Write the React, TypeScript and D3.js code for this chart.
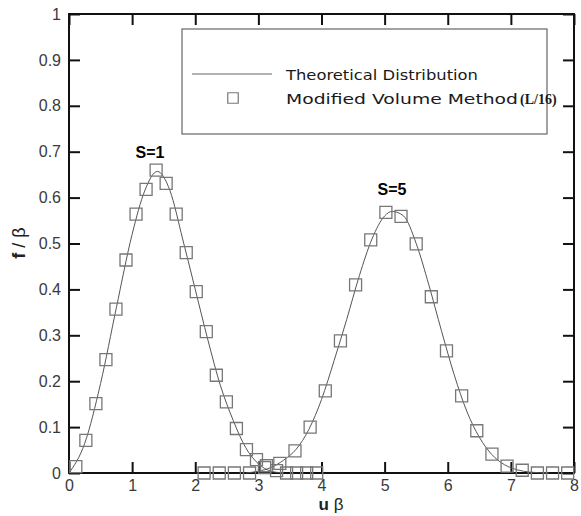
import { useEffect, useRef } from "react";
import * as d3 from "d3";

// marker data (u*beta, f/beta)
const s1U = [0.108, 0.267, 0.426, 0.585, 0.744, 0.903, 1.062, 1.221, 1.38, 1.539, 1.698, 1.857, 2.016, 2.175, 2.334, 2.493, 2.652, 2.811, 2.97, 3.129, 3.288, 3.447, 3.606, 3.765, 3.924];
const s1F = [0.014, 0.071, 0.151, 0.247, 0.357, 0.464, 0.564, 0.618, 0.66, 0.631, 0.564, 0.48, 0.395, 0.308, 0.213, 0.155, 0.097, 0.051, 0.029, 0.016, 0.005, 0, 0, 0, 0];
const s5U = [2.14, 2.38, 2.62, 2.86, 3.1, 3.34, 3.58, 3.82, 4.06, 4.3, 4.54, 4.78, 5.02, 5.26, 5.5, 5.74, 5.98, 6.22, 6.46, 6.7, 6.94, 7.18, 7.42, 7.66, 7.9];
const s5F = [0, 0, 0, 0, 0.012, 0.021, 0.048, 0.1, 0.179, 0.288, 0.41, 0.508, 0.568, 0.559, 0.499, 0.384, 0.266, 0.168, 0.092, 0.041, 0.015, 0.006, 0, 0, 0];

// theoretical curves
const t1U = [0, 0.25, 0.5, 0.75, 1.0, 1.2, 1.4, 1.6, 1.8, 2.0, 2.2, 2.4, 2.6, 2.8, 3.0, 3.2, 3.4];
const t1F = [0, 0.065, 0.195, 0.36, 0.52, 0.615, 0.657, 0.615, 0.51, 0.4, 0.29, 0.19, 0.115, 0.055, 0.02, 0.004, 0];
const t5U = [2.8, 3.0, 3.2, 3.4, 3.6, 3.8, 4.0, 4.2, 4.4, 4.6, 4.8, 5.0, 5.12, 5.3, 5.5, 5.7, 5.9, 6.1, 6.3, 6.5, 6.7, 6.9, 7.1, 7.3, 7.6];
const t5F = [0, 0.004, 0.012, 0.028, 0.052, 0.095, 0.16, 0.245, 0.335, 0.43, 0.51, 0.56, 0.57, 0.56, 0.5, 0.41, 0.31, 0.215, 0.135, 0.078, 0.04, 0.018, 0.007, 0.002, 0];

const xTicks = [0, 1, 2, 3, 4, 5, 6, 7, 8];
const yTicks = [0, 0.1, 0.2, 0.3, 0.4, 0.5, 0.6, 0.7, 0.8, 0.9, 1];

const W = 581;
const H = 516;

export default function App() {
  const ref = useRef<SVGSVGElement>(null);

  useEffect(() => {
    const svg = d3.select(ref.current);
    svg.selectAll("*").remove();

    const x = d3.scaleLinear().domain([0, 8]).range([69, 574]);
    const y = d3.scaleLinear().domain([0, 1]).range([473, 14]);
    const font = "Liberation Sans, Arial, sans-serif";
    const legendFont = "DejaVu Sans, Verdana, sans-serif";

    const fmtY = (d) => (d === 0 || d === 1 ? String(d) : d3.format(".1f")(d));

    // axes with inward ticks
    const styleAxis = (g) => {
      g.select(".domain").remove();
      g.selectAll("line").attr("stroke", "#111").attr("stroke-width", 2);
      g.selectAll("text")
        .style("font-family", font)
        .style("font-size", "16px")
        .attr("fill", "#3a3a3a");
    };

    svg.append("g")
      .attr("transform", `translate(69,0)`)
      .call(d3.axisLeft(y).tickValues(yTicks).tickSize(-11).tickPadding(8).tickFormat(fmtY))
      .call(styleAxis);
    svg.append("g")
      .attr("transform", `translate(574,0)`)
      .call(d3.axisRight(y).tickValues(yTicks).tickSize(-11).tickFormat(() => ""))
      .call(styleAxis);
    svg.append("g")
      .attr("transform", `translate(0,473)`)
      .call(d3.axisBottom(x).tickValues(xTicks).tickSize(-11).tickPadding(7).tickFormat(d3.format("d")))
      .call(styleAxis);
    svg.append("g")
      .attr("transform", `translate(0,14)`)
      .call(d3.axisTop(x).tickValues(xTicks).tickSize(-11).tickFormat(() => ""))
      .call(styleAxis);

    // frame
    svg.append("rect")
      .attr("x", 69)
      .attr("y", 14)
      .attr("width", 505)
      .attr("height", 459)
      .attr("fill", "none")
      .attr("stroke", "#111")
      .attr("stroke-width", 2);

    // theoretical lines
    const line = d3.line<[number, number]>()
      .x((d) => x(d[0]))
      .y((d) => y(d[1]))
      .curve(d3.curveMonotoneX);
    [[t1U, t1F], [t5U, t5F]].forEach(([us, fs]) => {
      svg.append("path")
        .attr("d", line(us.map((u, i) => [u, fs[i]])))
        .attr("fill", "none")
        .attr("stroke", "#555")
        .attr("stroke-width", 1);
    });

    // markers
    const sq = d3.symbol().type(d3.symbolSquare).size(144);
    [[s1U, s1F], [s5U, s5F]].forEach(([us, fs]) => {
      svg.append("g")
        .selectAll("path")
        .data(us.map((u, i) => [u, fs[i]]))
        .enter()
        .append("path")
        .attr("transform", (d) => `translate(${x(d[0])},${y(d[1])})`)
        .attr("d", sq())
        .attr("fill", "none")
        .attr("stroke", "#777")
        .attr("stroke-width", 1.3);
    });

    // peak labels
    svg.append("text")
      .attr("x", 150).attr("y", 158)
      .attr("text-anchor", "middle")
      .style("font-family", font).style("font-size", "16px").style("font-weight", "bold")
      .text("S=1");
    svg.append("text")
      .attr("x", 392).attr("y", 195)
      .attr("text-anchor", "middle")
      .style("font-family", font).style("font-size", "16px").style("font-weight", "bold")
      .text("S=5");

    // legend
    const lg = svg.append("g");
    lg.append("rect")
      .attr("x", 182).attr("y", 29).attr("width", 365).attr("height", 105)
      .attr("fill", "white").attr("stroke", "#666").attr("stroke-width", 1.2);
    lg.append("line")
      .attr("x1", 192).attr("x2", 272).attr("y1", 74).attr("y2", 74)
      .attr("stroke", "#666").attr("stroke-width", 1);
    lg.append("path")
      .attr("transform", "translate(233,98)")
      .attr("d", d3.symbol().type(d3.symbolSquare).size(110)())
      .attr("fill", "none").attr("stroke", "#777").attr("stroke-width", 1.2);
    lg.append("text")
      .attr("x", 286).attr("y", 80)
      .attr("textLength", 192).attr("lengthAdjust", "spacingAndGlyphs")
      .style("font-family", legendFont).style("font-size", "14.5px").attr("fill", "#1a1a1a")
      .text("Theoretical Distribution");
    lg.append("text")
      .attr("x", 286).attr("y", 104)
      .attr("textLength", 232).attr("lengthAdjust", "spacingAndGlyphs")
      .style("font-family", legendFont).style("font-size", "14.5px").attr("fill", "#1a1a1a")
      .text("Modified Volume Method");
    lg.append("text")
      .attr("x", 520).attr("y", 104)
      .style("font-family", "Liberation Serif, Times New Roman, serif").style("font-size", "14px")
      .style("font-weight", "bold").attr("fill", "#1a1a1a")
      .text("(L/16)");

    // axis titles
    const xt = svg.append("text")
      .attr("x", 331).attr("y", 510)
      .attr("text-anchor", "middle")
      .style("font-family", font).style("font-size", "17px").attr("fill", "#222");
    xt.append("tspan").style("font-weight", "bold").text("u");
    xt.append("tspan").text(" β");

    const yt = svg.append("text")
      .attr("transform", "translate(25,243) rotate(-90)")
      .attr("text-anchor", "middle")
      .style("font-family", font).style("font-size", "18px").attr("fill", "#222");
    yt.append("tspan").style("font-weight", "bold").text("f");
    yt.append("tspan").text(" / β");
  }, []);

  return (
    <svg
      ref={ref}
      width={W}
      height={H}
      style={{ position: "absolute", left: 0, top: 0, background: "white" }}
    />
  );
}
